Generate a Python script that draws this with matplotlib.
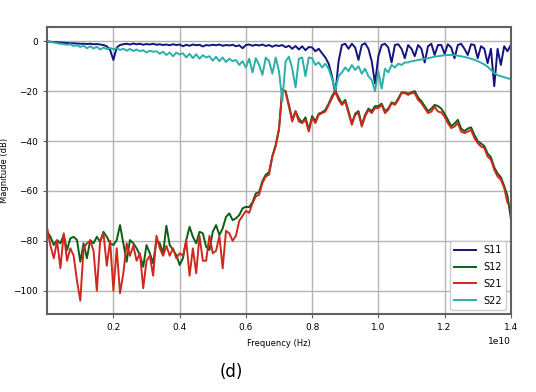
import numpy as np
import matplotlib
matplotlib.use("Agg")
import matplotlib.pyplot as plt

# frequency grid, 0 .. 1.4e10 Hz in 1e8 steps
freq = np.linspace(0, 1.4e10, 141)

s11 = [0, -0.2, -0.3, -0.4, -0.5, -0.6, -0.7, -0.8, -0.8, -0.9, -1.0,
       -1.0, -1.1, -1.0, -1.2, -1.1, -1.3, -1.5, -2.0, -3.5, -7.5,
       -2.5, -1.5, -1.2, -1.0, -1.3, -0.9, -1.2, -1.0, -1.4, -1.1,
       -1.3, -1.0, -1.4, -1.2, -1.5, -1.3, -1.6, -1.2, -1.5, -1.3,
       -2.0, -1.4, -1.8, -1.3, -1.6, -1.4, -2.1, -1.5, -1.7, -1.4,
       -1.6, -1.3, -1.8, -1.5, -1.7, -1.4, -2.0, -1.6, -2.8, -1.5,
       -1.3, -1.8, -1.4, -1.7, -1.3, -1.9, -1.5, -2.2, -1.6, -1.9,
       -1.5, -2.4, -1.8, -3.0, -1.9, -3.3, -2.0, -3.6, -2.3, -2.5,
       -4.0, -3.0, -4.8, -6.5, -9.0, -14.0, -21.0, -8.0, -1.5, -1.0,
       -3.0, -1.0, -2.5, -7.5, -1.5, -0.8, -3.0, -8.0, -17.0, -6.0,
       -1.5, -1.0, -2.5, -8.5, -1.5, -1.2, -3.0, -6.8, -1.5, -3.0,
       -6.0, -1.5, -3.0, -8.5, -2.0, -1.0, -5.5, -1.5, -1.5, -5.0,
       -1.2, -2.5, -6.8, -1.5, -1.0, -3.0, -5.5, -1.2, -1.5, -6.8,
       -2.0, -3.0, -8.8, -3.0, -18.0, -3.0, -9.5, -2.0, -4.0, -1.5]

s12 = [-76.4, -78.4, -81.7, -79.7, -81.0, -77.7, -83.7, -79.0, -78.4, -79.7,
       -88.4, -81.0, -87.0, -79.7, -81.0, -78.4, -80.4, -76.4, -78.4, -81.0,
       -81.7, -79.7, -73.7, -81.0, -88.4, -79.7, -81.0, -83.0, -85.7, -90.4,
       -81.7, -85.0, -89.0, -79.7, -81.0, -85.0, -74.0, -81.7, -83.7, -85.7,
       -89.7, -87.0, -79.7, -74.4, -78.4, -81.0, -76.4, -77.0, -82.4, -83.7,
       -76.4, -73.7, -77.7, -75.0, -70.4, -69.0, -71.7, -71.0, -69.7, -67.0,
       -66.4, -66.5, -64.5, -61.0, -60.5, -56.0, -53.5, -52.5, -46.0, -41.5,
       -35.0, -19.5, -20.0, -25.5, -31.5, -28.0, -31.0, -32.5, -30.5, -35.5,
       -30.0, -32.0, -29.0, -28.5, -27.5, -25.0, -22.0, -19.8, -22.5, -25.0,
       -23.5, -28.0, -33.0, -29.0, -28.0, -33.5, -29.5, -27.0, -28.0, -26.0,
       -26.0, -25.0, -28.0, -27.0, -24.5, -25.0, -23.0, -20.5, -20.5, -21.0,
       -20.5, -20.0, -22.5, -24.0, -26.0, -28.0, -27.0, -25.5, -26.0, -27.0,
       -29.0, -31.5, -34.0, -33.0, -31.5, -35.0, -36.0, -35.0, -34.5, -37.5,
       -40.0, -41.0, -42.0, -45.0, -46.5, -50.5, -53.0, -54.5, -58.0, -62.0,
       -71.0]

s21 = [-75, -82, -87, -80, -91, -77, -88, -83, -86, -96,
       -104, -83, -81, -80, -84, -100, -80, -77, -90, -80,
       -100, -83, -101, -93, -81, -86, -82, -88, -85, -99,
       -88, -86, -94, -78, -83, -86, -82, -86, -83, -87,
       -85, -86, -80, -94, -83, -93, -78, -88, -88, -78,
       -85, -84, -78, -91, -76, -77, -80, -78, -72, -70,
       -68.0, -68.8, -65.0, -62.2, -61.5, -56.8, -54.2, -53.5, -46.2, -42.2,
       -35.5, -19.0, -20.5, -26.2, -32.2, -28.2, -32.2, -32.8, -31.5, -36.2,
       -30.8, -32.8, -29.5, -28.8, -28.2, -25.5, -22.8, -20.2, -23.5, -25.5,
       -24.2, -28.8, -33.5, -29.5, -28.8, -34.2, -30.2, -27.5, -28.8, -26.8,
       -26.8, -25.5, -28.8, -27.5, -24.8, -25.5, -23.5, -20.8, -20.8, -21.5,
       -20.8, -20.8, -23.5, -24.8, -26.8, -28.8, -28.2, -26.2, -28.2, -28.5,
       -30.2, -32.8, -34.8, -34.2, -32.8, -36.2, -36.8, -36.2, -35.5, -38.8,
       -40.8, -42.2, -42.8, -46.2, -47.5, -51.5, -54.2, -55.5, -58.8, -64.8,
       -66.2]

s22 = [0, -0.3, -0.5, -0.8, -1.0, -1.2, -1.4, -1.2, -1.9, -1.6, -2.3,
       -1.8, -2.8, -2.0, -2.9, -2.2, -3.3, -2.5, -3.1, -2.7, -3.2,
       -2.8, -3.5, -3.0, -3.8, -3.1, -3.9, -3.3, -4.0, -3.6, -4.5,
       -3.8, -4.2, -4.0, -5.0, -4.2, -5.5, -4.5, -6.0, -4.6, -5.3,
       -4.8, -6.5, -5.0, -6.8, -5.2, -7.0, -5.6, -6.5, -6.0, -7.8,
       -6.2, -8.0, -6.5, -8.3, -7.0, -8.0, -7.5, -9.5, -8.0, -10.5,
       -7.0, -12.5, -6.8, -9.5, -13.5, -6.5, -8.0, -13.0, -6.5, -12.0,
       -24.0, -8.0, -6.2, -11.0, -18.5, -7.0, -6.5, -14.0, -6.5, -6.8,
       -9.5, -8.5, -10.5, -9.0, -11.0, -15.0, -19.5, -14.0, -12.5, -10.5,
       -12.0, -9.5, -11.5, -10.0, -13.0, -11.0, -14.0, -15.5, -20.0, -12.0,
       -19.0, -11.0, -12.5, -9.5, -10.5, -9.0, -9.5, -8.5, -8.5, -8.0,
       -7.8, -7.5, -7.3, -7.0, -6.8, -6.5, -6.2, -6.0, -5.8, -5.6,
       -5.5, -5.5, -5.6, -5.8, -6.0, -6.3, -6.6, -7.0, -7.4, -8.0,
       -8.6, -9.3, -10.2, -11.5, -12.8, -13.6, -14.0, -14.4, -14.8, -15.2]

names = ["S11", "S12", "S21", "S22"]
colors = ["#14147e", "#0b5e14", "#d0281e", "#2bb0a8"]

fig = plt.figure(figsize=(5.36, 3.92), dpi=100)
ax = fig.add_axes([0.088, 0.198, 0.865, 0.733])

for s, name, c in zip([s11, s12, s21, s22], names, colors):
    ax.plot(freq, s, color=c, lw=1.4, label=name)

ax.set_xlim(freq[0], freq[-1])
ax.set_ylim(-109.5, 5.7)
ax.set_yticks([0, -20, -40, -60, -80, -100])
ax.set_xticks([0.2e10, 0.4e10, 0.6e10, 0.8e10, 1.0e10, 1.2e10, 1.4e10])
ax.grid(True, color="#b4b4b4", lw=1.0)
for sp in ax.spines.values():
    sp.set_color("#606060")
    sp.set_linewidth(1.5)
ax.tick_params(labelsize=6.5, length=3, color="#606060")
ax.xaxis.get_offset_text().set_fontsize(6.5)
ax.set_xlabel("Frequency (Hz)", fontsize=6, labelpad=5)
ax.set_ylabel("Magnitude (dB)", fontsize=6, labelpad=3)
ax.legend(loc="lower right", fontsize=7, handlelength=2.2, labelspacing=0.7,
          framealpha=1)

fig.text(0.432, 0.05, "(d)", fontsize=12, ha="center", va="center")

fig.savefig("out.png", dpi=100)
